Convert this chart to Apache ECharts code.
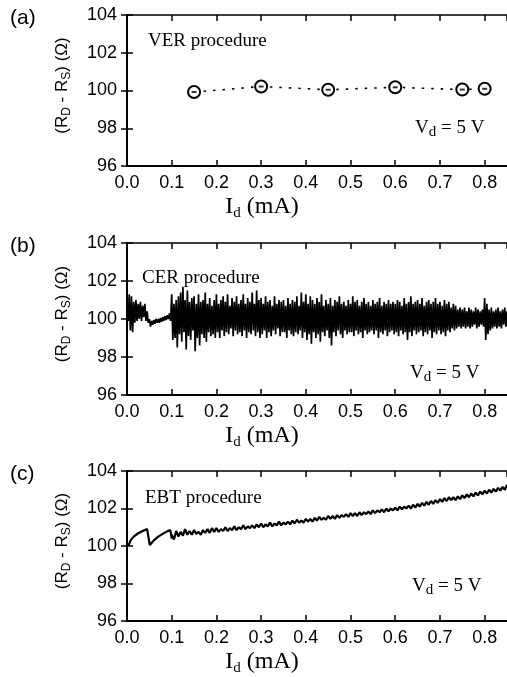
<!DOCTYPE html>
<html>
<head>
<meta charset="utf-8">
<script src="https://cdn.jsdelivr.net/npm/echarts@6/dist/echarts.min.js"></script>
<style>
html, body { margin: 0; padding: 0; background: #fff; }
#main { width: 507px; height: 677px; }
</style>
</head>
<body>
<div id="main"></div>
<script>
// panel (a): VER procedure, single points
var verX = [0.15, 0.30, 0.45, 0.60, 0.75, 0.80];
var verY = [99.92, 100.21, 100.04, 100.17, 100.05, 100.09];

// panel (b): CER procedure, read as upper / lower swing every 0.005 mA
var cerStep = 0.005;
var cerHi = [
    100.1, 101.3, 101.2, 100.9, 101.0, 100.8, 100.9, 100.7, 100.8, 100.4,
    100.0, 99.9, 99.95, 100.0, 100.0, 100.05, 100.1, 100.15, 100.2, 100.3,
    101.3, 100.8, 101.0, 101.2, 101.4, 101.7, 101.0, 101.5, 100.9, 101.1,
    101.2, 100.8, 101.3, 100.9, 101.0, 101.4, 100.8, 101.1, 100.7, 101.0,
    101.3, 100.8, 101.0, 101.2, 100.9, 101.3, 100.7, 101.1, 100.9, 101.2,
    100.8, 101.0, 101.3, 100.8, 101.1, 100.9, 101.4, 100.8, 101.5, 101.0,
    101.1, 100.8, 101.2, 100.9, 101.0, 100.7, 101.2, 100.8, 101.0, 100.9,
    101.0, 100.7, 101.1, 100.8, 101.0, 100.9, 101.2, 100.7, 101.4, 100.9,
    101.3, 100.8, 101.2, 101.0, 100.8, 101.1, 100.9, 101.3, 100.7, 101.0,
    100.8, 101.1, 100.7, 101.0, 100.9, 101.2, 100.8, 100.9, 100.7, 101.0,
    100.8, 101.2, 100.9, 101.0, 100.7, 100.9, 101.1, 100.8, 100.9, 100.7,
    101.0, 100.8, 100.9, 101.1, 100.7, 100.9, 100.8, 101.0, 100.8, 100.9,
    100.8, 101.0, 100.9, 100.7, 101.1, 100.8, 100.9, 101.2, 100.8, 100.9,
    101.0, 100.8, 101.1, 100.7, 100.9, 101.0, 100.8, 100.9, 101.1, 100.8,
    100.9, 100.7, 101.0, 100.8, 100.9, 100.6, 100.8, 100.7, 100.5, 100.6,
    100.5, 100.6, 100.4, 100.6, 100.5, 100.4, 100.6, 100.5, 100.4, 100.5,
    101.1, 100.8, 100.5, 100.6, 100.4, 100.5, 100.6, 100.4, 100.5, 100.6, 100.4
];
var cerLo = [
    99.9, 99.4, 99.3, 99.8, 99.9, 100.0, 99.9, 100.1, 99.9, 99.8,
    99.6, 99.7, 99.75, 99.8, 99.8, 99.85, 99.9, 99.95, 100.0, 99.9,
    98.9, 99.0, 98.5, 99.2, 98.8, 99.3, 98.4, 99.1, 98.9, 99.4,
    98.3, 99.0, 98.6, 99.2, 99.0, 98.8, 99.3, 99.1, 99.2, 99.0,
    99.3, 99.0, 99.4, 99.1, 99.3, 99.2, 99.5, 99.1, 99.4, 99.2,
    99.3, 99.1, 99.4, 99.0, 99.3, 99.2, 99.4, 99.1, 99.3, 99.0,
    99.2, 99.4, 99.0, 99.3, 99.1, 99.4, 99.2, 99.5, 99.1, 99.3,
    99.3, 99.0, 99.4, 99.2, 99.1, 99.3, 99.2, 99.4, 99.0, 99.3,
    98.9, 99.2, 98.7, 99.3, 99.0, 99.2, 98.8, 99.3, 99.1, 99.4,
    99.0, 98.6, 99.3, 99.1, 99.4, 99.2, 99.0, 99.4, 99.2, 99.3,
    99.3, 99.1, 99.4, 99.2, 99.3, 99.0, 99.4, 99.2, 99.3, 99.4,
    99.2, 99.4, 99.0, 99.3, 99.2, 99.4, 99.1, 99.3, 99.4, 99.2,
    99.3, 99.1, 99.4, 99.2, 99.3, 98.9, 99.3, 99.1, 99.4, 99.2,
    99.3, 99.4, 99.1, 99.3, 99.2, 99.4, 99.0, 99.3, 99.2, 99.4,
    99.2, 99.3, 99.1, 99.4, 99.3, 99.5, 99.4, 99.5, 99.6, 99.5,
    99.6, 99.5, 99.6, 99.5, 99.6, 99.7, 99.5, 99.6, 99.7, 99.6,
    98.9, 99.2, 99.4, 99.5, 99.6, 99.5, 99.6, 99.5, 99.7, 99.6, 99.6
];

// panel (c): EBT procedure, the two saw teeth below 0.1 mA
var ebtArcX = [0.003, 0.008, 0.015, 0.025, 0.035, 0.045, 0.049, 0.051, 0.06, 0.07, 0.08, 0.09, 0.097, 0.10];
var ebtArcY = [100.0, 100.3, 100.5, 100.68, 100.8, 100.9, 100.93, 100.05, 100.3, 100.5, 100.65, 100.78, 100.85, 100.4];
// then the slow climb, upper / lower edge every 0.01 mA from 0.10
var ebtStart = 0.10;
var ebtStep = 0.01;
var ebtHi = [
    100.6, 100.8, 100.75, 100.9, 100.8, 100.85, 100.75, 100.85, 100.9, 100.95,
    100.95, 100.9, 101.0, 100.95, 101.05, 101.0, 101.1, 101.05, 101.1, 101.15,
    101.2, 101.15, 101.25, 101.2, 101.3, 101.25, 101.3, 101.35, 101.4, 101.35,
    101.45, 101.45, 101.5, 101.55, 101.5, 101.6, 101.6, 101.65, 101.65, 101.7,
    101.75, 101.75, 101.8, 101.8, 101.85, 101.9, 101.9, 101.95, 102.0, 102.0,
    102.05, 102.1, 102.1, 102.15, 102.2, 102.25, 102.3, 102.35, 102.4, 102.45,
    102.5, 102.55, 102.6, 102.6, 102.65, 102.7, 102.75, 102.8, 102.85, 102.9,
    102.95, 103.0, 103.05, 103.1, 103.15, 103.25
];
var ebtLo = [
    100.35, 100.5, 100.55, 100.6, 100.6, 100.65, 100.6, 100.7, 100.7, 100.75,
    100.75, 100.8, 100.8, 100.85, 100.85, 100.9, 100.9, 100.95, 100.95, 101.0,
    101.0, 101.05, 101.05, 101.1, 101.1, 101.15, 101.15, 101.2, 101.25, 101.25,
    101.3, 101.3, 101.35, 101.4, 101.4, 101.45, 101.45, 101.5, 101.55, 101.55,
    101.6, 101.6, 101.65, 101.7, 101.7, 101.75, 101.8, 101.8, 101.85, 101.9,
    101.9, 101.95, 102.0, 102.0, 102.05, 102.1, 102.15, 102.2, 102.25, 102.3,
    102.35, 102.4, 102.45, 102.45, 102.5, 102.55, 102.6, 102.65, 102.7, 102.75,
    102.8, 102.85, 102.9, 102.95, 103.0, 103.1
];

var panelLetters = ['(a)', '(b)', '(c)'];
var procNames = ['VER procedure', 'CER procedure', 'EBT procedure'];

var sans = 'Liberation Sans, Arial, sans-serif';
var serif = 'Liberation Serif, Times New Roman, serif';

// zig-zag between the upper and lower readings
function swing(start, step, hi, lo) {
    var out = [];
    for (var i = 0; i < hi.length; i++) {
        out.push([start + i * step, hi[i]]);
        out.push([start + i * step + step / 2, lo[i]]);
    }
    return out;
}

var cerData = swing(0, cerStep, cerHi, cerLo);
var ebtData = ebtArcX.map(function (x, i) { return [x, ebtArcY[i]]; })
    .concat(swing(ebtStart, ebtStep, ebtHi, ebtLo));
var verData = verX.map(function (x, i) { return [x, verY[i]]; });

var tops = [15, 243, 471];
var heights = [151, 152, 150];

var grids = [], xAxes = [], yAxes = [], graphics = [];
tops.forEach(function (t, k) {
    grids.push({ left: 127, top: t, width: 382, height: heights[k] });
    xAxes.push({
        type: 'value', gridIndex: k, min: 0, max: 0.85, interval: 0.1,
        axisLine: { lineStyle: { color: '#000', width: 2 } },
        axisTick: { inside: true, length: 6, lineStyle: { color: '#000', width: 1.5 } },
        splitLine: { show: false },
        axisLabel: {
            color: '#000', fontFamily: sans, fontSize: 18, margin: 8,
            showMaxLabel: false,
            formatter: function (v) { return v.toFixed(1); }
        },
        name: 'I{sub|d} (mA)',
        nameLocation: 'middle',
        nameGap: 27,
        nameTextStyle: {
            color: '#000', fontFamily: serif, fontSize: 24, lineHeight: 28,
            padding: [0, 110, 0, 0],
            rich: { sub: { fontFamily: serif, fontSize: 15, lineHeight: 13, verticalAlign: 'bottom' } }
        }
    });
    xAxes.push({
        type: 'value', gridIndex: k, position: 'top', min: 0, max: 0.85, interval: 0.1,
        axisLine: { lineStyle: { color: '#000', width: 1.6 } },
        axisTick: { inside: true, length: 6, lineStyle: { color: '#000', width: 1.5 } },
        axisLabel: { show: false },
        splitLine: { show: false }
    });
    yAxes.push({
        type: 'value', gridIndex: k, min: 96, max: 104, interval: 2,
        axisLine: { lineStyle: { color: '#000', width: 2 } },
        axisTick: { inside: true, length: 6, lineStyle: { color: '#000', width: 1.5 } },
        splitLine: { show: false },
        axisLabel: { color: '#000', fontFamily: sans, fontSize: 18, margin: 10 },
        name: '(R{sub|D} - R{sub|S}) (Ω)',
        nameLocation: 'middle',
        nameRotate: 90,
        nameGap: 54,
        nameTextStyle: {
            color: '#000', fontFamily: sans, fontSize: 17, lineHeight: 22,
            padding: [0, 0, 0, 10],
            rich: { sub: { fontFamily: sans, fontSize: 12, lineHeight: 10, verticalAlign: 'bottom' } }
        }
    });
    yAxes.push({
        type: 'value', gridIndex: k, position: 'right', min: 96, max: 104, interval: 2,
        axisLine: { lineStyle: { color: '#000', width: 1.6 } },
        axisTick: { inside: true, length: 6, lineStyle: { color: '#000', width: 1.5 } },
        axisLabel: { show: false },
        splitLine: { show: false }
    });
    graphics.push({
        type: 'text', left: 10, top: t - 7,
        style: { text: panelLetters[k], font: '21px ' + sans, fill: '#000' }
    });
});

graphics.push({ type: 'text', left: 148, top: 32, style: { text: procNames[0], font: '19px ' + serif, fill: '#000' } });
graphics.push({ type: 'text', left: 142, top: 269, style: { text: procNames[1], font: '19px ' + serif, fill: '#000' } });
graphics.push({ type: 'text', left: 145, top: 489, style: { text: procNames[2], font: '19px ' + serif, fill: '#000' } });

var vdTops = [116, 361, 574];
var vdLefts = [415, 410, 412];
vdTops.forEach(function (t, k) {
    graphics.push({
        type: 'text', left: vdLefts[k], top: t,
        style: {
            text: 'V{sub|d} = 5 V', fill: '#000',
            font: '19px ' + serif, lineHeight: 24,
            rich: { sub: { font: '15px ' + serif, lineHeight: 12, verticalAlign: 'bottom' } }
        }
    });
});

var myChart = echarts.init(document.getElementById('main'));
var option = {
    animation: false,
    backgroundColor: '#fff',
    grid: grids,
    xAxis: xAxes,
    yAxis: yAxes,
    graphic: graphics,
    series: [
        {
            name: 'VER', type: 'line', xAxisIndex: 0, yAxisIndex: 0,
            data: verData,
            symbol: 'emptyCircle', symbolSize: 12,
            itemStyle: { color: '#000', borderColor: '#000', borderWidth: 0.9 },
            lineStyle: { color: '#000', width: 1.6, type: [2.5, 7] }
        },
        {
            name: 'VER mark', type: 'scatter', xAxisIndex: 0, yAxisIndex: 0,
            data: verData, z: 5,
            symbol: 'rect', symbolSize: [5, 2],
            itemStyle: { color: '#000' }
        },
        {
            name: 'CER', type: 'line', xAxisIndex: 2, yAxisIndex: 2,
            data: cerData, showSymbol: false,
            lineStyle: { color: '#000', width: 1.7 }
        },
        {
            name: 'EBT', type: 'line', xAxisIndex: 4, yAxisIndex: 4,
            data: ebtData, showSymbol: false,
            lineStyle: { color: '#000', width: 2.2 }
        }
    ]
};
myChart.setOption(option);
</script>
</body>
</html>
